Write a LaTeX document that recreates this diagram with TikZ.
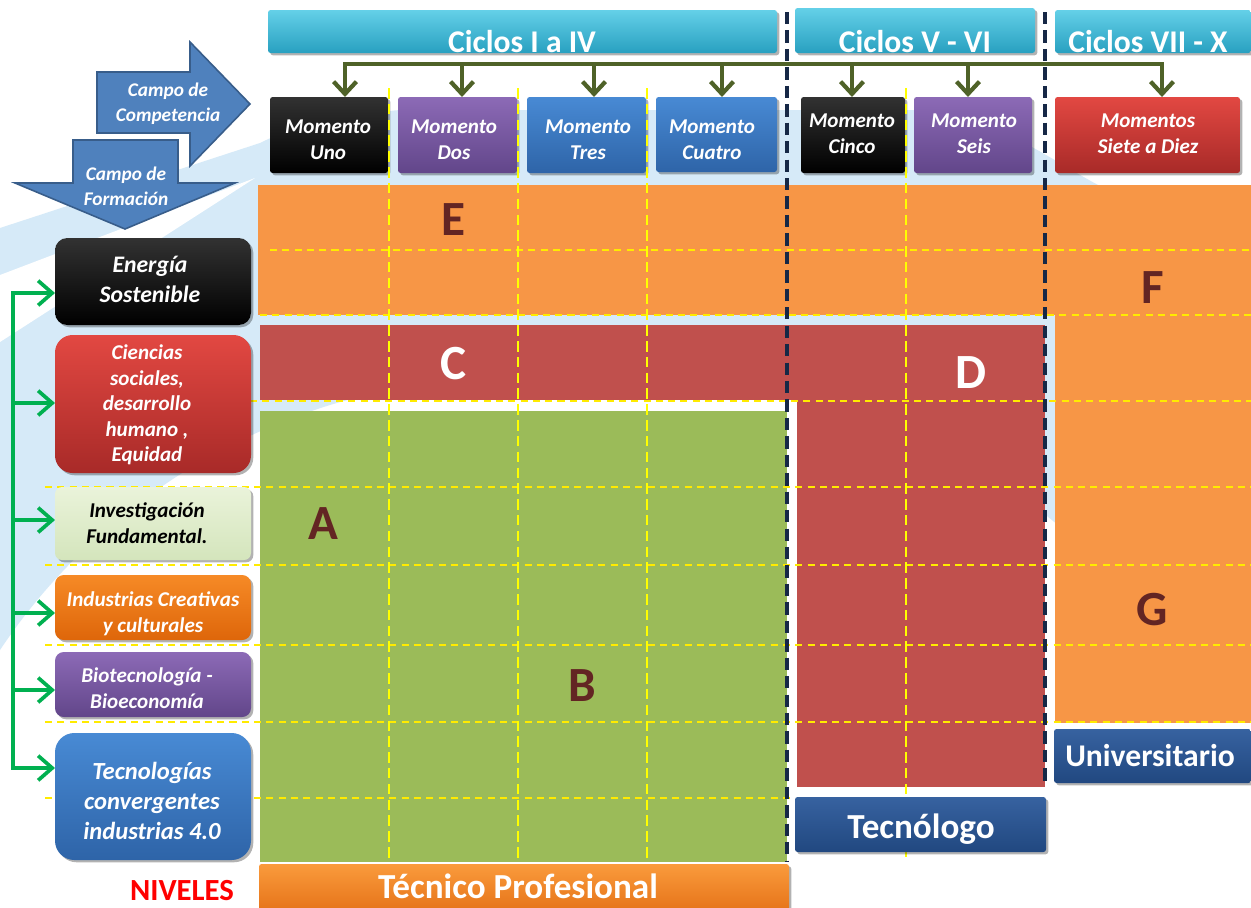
\documentclass[tikz,border=0pt]{standalone}
\usepackage{fontspec}
\setmainfont{Carlito}
\usetikzlibrary{arrows.meta,fit,shadows,calc}

\definecolor{lblue}{RGB}{214,234,248}
\definecolor{regorange}{RGB}{247,150,70}
\definecolor{regred}{RGB}{192,80,77}
\definecolor{reggreen}{RGB}{155,187,89}
\definecolor{letter}{RGB}{99,37,35}
\definecolor{olive}{RGB}{79,98,40}
\definecolor{gbr}{RGB}{0,176,80}
\definecolor{navy}{RGB}{22,40,70}
\definecolor{ylw}{RGB}{255,255,0}
\definecolor{hylw}{RGB}{255,235,0}
\definecolor{arrfill}{RGB}{79,129,189}
\definecolor{arrdraw}{RGB}{56,93,138}
\definecolor{hdrtop}{RGB}{100,208,232}
\definecolor{hdrbot}{RGB}{40,160,192}
\definecolor{blktop}{RGB}{50,50,50}
\definecolor{blkbot}{RGB}{0,0,0}
\definecolor{purtop}{RGB}{140,106,182}
\definecolor{purbot}{RGB}{98,70,138}
\definecolor{blutop}{RGB}{72,138,212}
\definecolor{blubot}{RGB}{46,100,168}
\definecolor{redtop}{RGB}{226,72,66}
\definecolor{redbot}{RGB}{168,42,40}
\definecolor{grntop}{RGB}{234,243,218}
\definecolor{grnbot}{RGB}{212,229,188}
\definecolor{orgtop}{RGB}{246,138,38}
\definecolor{orgbot}{RGB}{222,102,10}
\definecolor{dbltop}{RGB}{55,98,160}
\definecolor{dblbot}{RGB}{33,72,128}
\definecolor{tptop}{RGB}{250,155,60}
\definecolor{tpbot}{RGB}{228,112,22}

\tikzset{
 pbox/.style={inner sep=0pt, outer sep=0pt, draw=none,
   drop shadow={shadow xshift=1.3pt, shadow yshift=-1.3pt, opacity=0.3, fill=black}},
 grad/.style 2 args={top color=#1, bottom color=#2},
 hdr/.style={pbox, grad={hdrtop}{hdrbot}, rounded corners=1.5pt},
 mom/.style={pbox, rounded corners=1.5pt},
 wbi/.style={text=white, font=\fontsize{12pt}{15pt}\selectfont\bfseries\itshape, align=center, inner sep=0pt},
 htxt/.style={text=white, font=\fontsize{18pt}{20pt}\selectfont\bfseries, inner sep=0pt},
 lvl/.style={text=white, font=\fontsize{20pt}{22pt}\selectfont\bfseries, inner sep=0pt},
 ltr/.style={font=\fontsize{28pt}{30pt}\selectfont\bfseries, inner sep=0pt, text=letter},
 ydh/.style={draw=hylw, line width=0.9pt, dash pattern=on 4pt off 3pt},
 ydv/.style={draw=ylw, line width=1.4pt, dash pattern=on 6pt off 3pt},
 ndv/.style={draw=navy, line width=2.2pt, dash pattern=on 7pt off 3.5pt},
 oconn/.style={draw=olive, line width=2.4pt},
 oarr/.style={oconn, -{Straight Barb[length=7pt,width=13pt]}},
 gconn/.style={draw=gbr, line width=2.1pt},
 garr/.style={gconn, -{Straight Barb[length=8pt,width=14pt]}},
 bigarrow/.style={fill=arrfill, draw=arrdraw, line width=0.9pt, line join=miter},
}

\begin{document}
\begin{tikzpicture}[x=0.02cm,y=-0.02cm]
\useasboundingbox (0,0) rectangle (1251,907);
\fill[white] (0,0) rectangle (1251,907);

% background swoosh
\fill[lblue] (0,650) .. controls (80,530) and (200,445) .. (330,405)
  .. controls (480,360) and (700,360) .. (850,400)
  .. controls (980,440) and (1100,560) .. (1251,700)
  -- (1251,186) -- (1100,186) .. controls (1050,160) and (990,112) .. (913,110)
  -- (400,110) .. controls (330,116) and (290,128) .. (260,143) -- (0,228) -- cycle;
\fill[white] (0,275) -- (255,178) -- (0,342) -- cycle;

% grid regions
\fill[regorange] (258,185) rectangle (1251,315);
\fill[regorange] (1055,315) rectangle (1251,723);
\fill[regred] (260,325) rectangle (1045,400);
\fill[regred] (797,400) rectangle (1045,787);
\fill[reggreen] (260,411) rectangle (787,862);

% horizontal yellow dashed lines
\draw[ydh] (270,250) -- (1251,250);
\draw[ydh] (260,315) -- (1251,315);
\draw[ydh] (250,401) -- (1251,401);
\draw[ydh] (45,487) -- (1251,487);
\draw[ydh] (45,565) -- (1251,565);
\draw[ydh] (45,645) -- (1251,645);
\draw[ydh] (45,722) -- (1251,722);
\draw[ydh] (45,798) -- (795,798);

% header bars
\node[hdr, fit={(268,10) (777,53)}] (h1) {};
\node[hdr, fit={(795,8) (1035,53)}] (h2) {};
\node[hdr, fit={(1055,10) (1251,53)}] (h3) {};
\node[htxt, anchor=base] (h1t) at (522,52) {Ciclos I a IV};
\node[htxt, anchor=base] (h2t) at (915,52) {Ciclos V - VI};
\node[htxt, anchor=base] (h3t) at (1148,52) {Ciclos VII - X};

% momento boxes
\node[mom, grad={blktop}{blkbot}, fit={(270,97) (388,173)}] (uno) {};
\node[mom, grad={purtop}{purbot}, fit={(398,97) (517,173)}] (dos) {};
\node[mom, grad={blutop}{blubot}, fit={(527,97) (646,173)}] (tres) {};
\node[mom, grad={blutop}{blubot}, fit={(656,97) (777,172)}] (cuatro) {};
\node[mom, grad={blktop}{blkbot}, fit={(801,97) (905,173)}] (cinco) {};
\node[mom, grad={purtop}{purbot}, fit={(914,97) (1032,173)}] (seis) {};
\node[mom, grad={redtop}{redbot}, fit={(1055,97) (1240,173)}] (siete) {};
\node[wbi] (unot) at (328,140) {Momento\\Uno};
\node[wbi] (dost) at (454,140) {Momento\\Dos};
\node[wbi] (trest) at (588,140) {Momento\\Tres};
\node[wbi] (cuatrot) at (712,140) {Momento\\Cuatro};
\node[wbi] (cincot) at (852,134) {Momento\\Cinco};
\node[wbi] (seist) at (974,134) {Momento\\Seis};
\node[wbi] (sietet) at (1148,134) {Momentos\\Siete a Diez};

% vertical yellow dashed lines
\draw[ydv] (389,88) -- (389,860);
\draw[ydv] (518,88) -- (518,860);
\draw[ydv] (647,88) -- (647,860);
\draw[ydv] (906,88) -- (906,857);

% left boxes
\node[pbox, grad={blktop}{blkbot}, rounded corners=7pt, fit={(55,238) (251,325)}] (energia) {};
\node[pbox, grad={redtop}{redbot}, rounded corners=10pt, fit={(55,335) (251,473)}] (ciencias) {};
\node[pbox, grad={grntop}{grnbot}, rounded corners=4pt, fit={(55,487) (251,560)}] (invest) {};
\node[pbox, grad={orgtop}{orgbot}, rounded corners=5pt, fit={(55,575) (251,640)}] (industrias) {};
\node[pbox, grad={purtop}{purbot}, rounded corners=5pt, fit={(55,652) (251,717)}] (bio) {};
\node[pbox, grad={blutop}{blubot}, rounded corners=11pt, fit={(55,733) (251,860)}] (tecno) {};
\node[wbi, font=\fontsize{13.5pt}{17pt}\selectfont\bfseries\itshape] (energiat) at (150,279) {Energía\\Sostenible};
\node[wbi, font=\fontsize{12pt}{14.5pt}\selectfont\bfseries\itshape] (cienciast) at (147,405) {Ciencias\\sociales,\\desarrollo\\humano ,\\Equidad};
\node[wbi, text=black] (investt) at (147,523) {Investigación\\Fundamental.};
\node[wbi] (industriast) at (153,614) {Industrias Creativas\\y culturales};
\node[wbi] (biot) at (147,688) {Biotecnología -\\Bioeconomía};
\node[wbi, font=\fontsize{14pt}{17pt}\selectfont\bfseries\itshape] (tecnot) at (152,801) {Tecnologías\\convergentes\\industrias 4.0};

% level bars
\node[pbox, grad={dbltop}{dblbot}, rounded corners=1.5pt, fit={(795,797) (1046,852)}] (tecnologo) {};
\node[pbox, grad={dbltop}{dblbot}, rounded corners=1.5pt, fit={(1054,729) (1251,783)}] (univ) {};
\node[pbox, grad={tptop}{tpbot}, rounded corners=1.5pt, fit={(259,864) (789,915)}] (tecprof) {};
\node[lvl, anchor=base] (tecnologot) at (921,838) {Tecnólogo};
\node[lvl, font=\fontsize{18pt}{20pt}\selectfont\bfseries, anchor=base] (univt) at (1150,766) {Universitario};
\node[lvl, anchor=base] (tecproft) at (518,898) {Técnico Profesional};
\node[font=\fontsize{17.5pt}{19pt}\selectfont\bfseries, text=red, inner sep=0pt, anchor=base] (niveles) at (182,900) {NIVELES};

% navy dashed lines
\draw[ndv] (787,12) -- (787,862);
\draw[ndv] (1045,12) -- (1045,785);

% region letters
\node[ltr, anchor=base] (lE) at (453,235) {E};
\node[ltr, anchor=base, text=white] (lC) at (454,379) {C};
\node[ltr, anchor=base, text=white] (lD) at (971,388) {D};
\node[ltr, anchor=base] (lA) at (323,539) {A};
\node[ltr, anchor=base] (lB) at (582,701) {B};
\node[ltr, anchor=base] (lF) at (1153,303) {F};
\node[ltr, anchor=base] (lG) at (1152,625) {G};

% campo arrows
\draw[bigarrow] (97,72) -- (190,72) -- (190,42) -- (250,104) -- (190,166) -- (190,133) -- (97,133) -- cycle;
\draw[bigarrow] (73,140) -- (178,140) -- (178,183) -- (235,183) -- (125,229) -- (15,183) -- (73,183) -- cycle;
\node[wbi, font=\fontsize{11pt}{14pt}\selectfont\bfseries\itshape] (compt) at (168,104) {Campo de\\Competencia};
\node[wbi, font=\fontsize{11pt}{14pt}\selectfont\bfseries\itshape] (formt) at (126,186) {Campo de\\Formación};

% olive connectors
\coordinate (o1) at (345,64);
\coordinate (o2) at (462,64);
\coordinate (o3) at (594,64);
\coordinate (o4) at (722,64);
\coordinate (o5) at (852,64);
\coordinate (o6) at (968,64);
\coordinate (o7) at (1162,64);
\draw[oconn, {Straight Barb[length=7pt,width=13pt]}-{Straight Barb[length=7pt,width=13pt]}]
  (o1 |- uno.north) -- (o1) -- (o7) -- (o7 |- siete.north);
\draw[oarr] (o2) -- (o2 |- dos.north);
\draw[oarr] (o3) -- (o3 |- tres.north);
\draw[oarr] (o4) -- (o4 |- cuatro.north);
\draw[oarr] (o5) -- (o5 |- cinco.north);
\draw[oarr] (o6) -- (o6 |- seis.north);

% green connectors
\coordinate (g1) at (13,293);
\coordinate (g2) at (13,403);
\coordinate (g3) at (13,520);
\coordinate (g4) at (13,613);
\coordinate (g5) at (13,690);
\coordinate (g6) at (13,768);
\draw[gconn, {Straight Barb[length=8pt,width=14pt]}-{Straight Barb[length=8pt,width=14pt]}]
  (energia.west |- g1) -- (g1) -- (g6) -- (tecno.west |- g6);
\draw[garr] (g2) -- (ciencias.west |- g2);
\draw[garr] (g3) -- (invest.west |- g3);
\draw[garr] (g4) -- (industrias.west |- g4);
\draw[garr] (g5) -- (bio.west |- g5);
\end{tikzpicture}
\end{document}
